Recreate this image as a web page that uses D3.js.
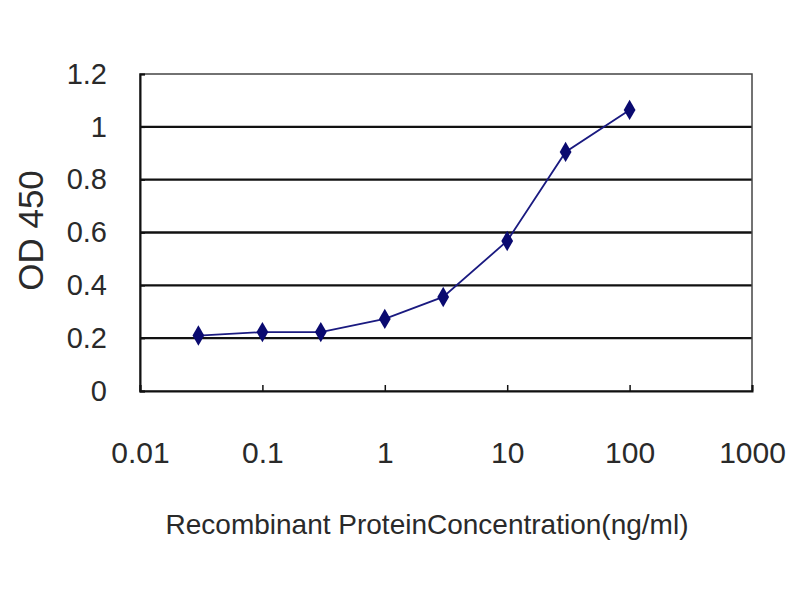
<!DOCTYPE html>
<html>
<head>
<meta charset="utf-8">
<script src="https://cdn.jsdelivr.net/npm/d3@7"></script>
<style>
  body { margin: 0; background: #fff; }
  text { font-family: "Liberation Sans", Arial, sans-serif; fill: #2a2a2a; }
</style>
</head>
<body>
<script>
// concentrations (ng/ml) and OD 450 readings
var concentrations = [0.03, 0.1, 0.3, 1, 3, 10, 30, 100];
var od450 = [0.21, 0.223, 0.223, 0.273, 0.356, 0.568, 0.905, 1.064];
var xTicks = [0.01, 0.1, 1, 10, 100, 1000];
var xTickLabels = ["0.01", "0.1", "1", "10", "100", "1000"];
var yTicks = [0, 0.2, 0.4, 0.6, 0.8, 1, 1.2];
var yTickLabels = ["0", "0.2", "0.4", "0.6", "0.8", "1", "1.2"];

var width = 800, height = 600;
var margin = { top: 74, right: 48, bottom: 209, left: 140 };
var graph_width = width - margin.left - margin.right;
var graph_height = height - margin.top - margin.bottom;

var svg = d3.select("body").append("svg")
    .attr("width", width)
    .attr("height", height);

var g = svg.append("g")
    .attr("transform", "translate(" + margin.left + "," + margin.top + ")");

var x = d3.scaleLog().domain([0.01, 1000]).range([0, graph_width]);
var y = d3.scaleLinear().domain([0, 1.2]).range([graph_height, 0]);

// horizontal gridlines
g.selectAll(".grid")
    .data(yTicks.slice(1, -1))
    .enter().append("line")
    .attr("x1", 0).attr("x2", graph_width)
    .attr("y1", function (d) { return y(d); })
    .attr("y2", function (d) { return y(d); })
    .attr("stroke", "#111")
    .attr("stroke-width", 2.4);

// plot frame
g.append("rect")
    .attr("width", graph_width).attr("height", graph_height)
    .attr("fill", "none")
    .attr("stroke", "#444")
    .attr("stroke-width", 1.5);

// y axis
var yAxis = g.append("g")
    .call(d3.axisLeft(y).tickValues(yTicks)
        .tickFormat(function (d, i) { return yTickLabels[i]; })
        .tickSize(-5).tickPadding(33));
yAxis.select(".domain").attr("stroke", "#111").attr("stroke-width", 2);
yAxis.selectAll(".tick line").attr("stroke", "#111").attr("stroke-width", 1.5);
yAxis.selectAll("text").style("font-size", "29px").attr("fill", "#2a2a2a");

// x axis
var xAxis = g.append("g")
    .attr("transform", "translate(0," + graph_height + ")")
    .call(d3.axisBottom(x).tickValues(xTicks)
        .tickFormat(function (d, i) { return xTickLabels[i]; })
        .tickSize(-6).tickPadding(51));
xAxis.select(".domain").attr("stroke", "#111").attr("stroke-width", 2);
xAxis.selectAll(".tick line").attr("stroke", "#111").attr("stroke-width", 1.5);
xAxis.selectAll("text").style("font-size", "30px").attr("fill", "#2a2a2a");

// data line
var points = concentrations.map(function (c, i) { return [c, od450[i]]; });
var line = d3.line()
    .x(function (d) { return x(d[0]); })
    .y(function (d) { return y(d[1]); });

g.append("path")
    .datum(points)
    .attr("d", line)
    .attr("fill", "none")
    .attr("stroke", "#1a1a80")
    .attr("stroke-width", 1.8);

g.selectAll(".marker")
    .data(points)
    .enter().append("path")
    .attr("d", d3.symbol().type(d3.symbolDiamond).size(120))
    .attr("transform", function (d) { return "translate(" + x(d[0]) + "," + y(d[1]) + ")"; })
    .attr("fill", "#0a0a70");

// axis titles
svg.append("text")
    .attr("transform", "translate(43," + (margin.top + graph_height / 2 - 2) + ") rotate(-90)")
    .attr("text-anchor", "middle")
    .style("font-size", "35px")
    .text("OD 450");

svg.append("text")
    .attr("x", 427).attr("y", 534)
    .attr("text-anchor", "middle")
    .style("font-size", "28px")
    .text("Recombinant ProteinConcentration(ng/ml)");
</script>
</body>
</html>
